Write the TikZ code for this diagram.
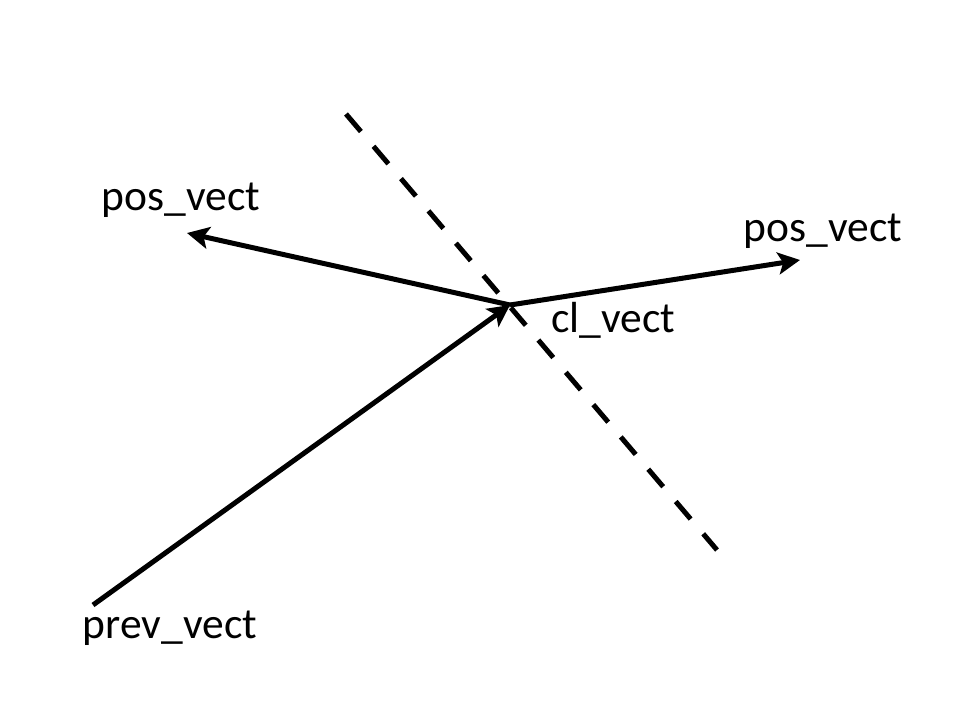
\documentclass[tikz,border=0pt]{standalone}
\usepackage{fontspec}
\setmainfont{Carlito}
\usetikzlibrary{arrows.meta}
\begin{document}
\begin{tikzpicture}[x=1pt,y=-1pt,
  vec/.style={line width=5pt,-{Stealth[length=22pt,width=22pt,inset=5pt]}},
  cut/.style={line width=5pt,dash pattern=on 23pt off 19.4pt},
  lbl/.style={font=\fontsize{43.5}{50}\selectfont,inner sep=0pt}]
\useasboundingbox (0,0) rectangle (960,720);
\coordinate (c) at (510,305);
\coordinate (p) at (93,605);
\coordinate (l) at (187,233);
\coordinate (r) at (800,260);
\coordinate (d1) at (346,114);
\coordinate (d2) at (717,550);
\draw[cut] (d1) -- (d2);
\draw[vec] (p) -- (c);
\draw[vec] (c) -- (l);
\draw[vec] (c) -- (r);
\node[lbl] (tl) at (181,200) {pos\_vect};
\node[lbl] (tr) at (823,231) {pos\_vect};
\node[lbl] (tc) at (613,320) {cl\_vect};
\node[lbl] (tp) at (170,628) {prev\_vect};
\end{tikzpicture}
\end{document}
